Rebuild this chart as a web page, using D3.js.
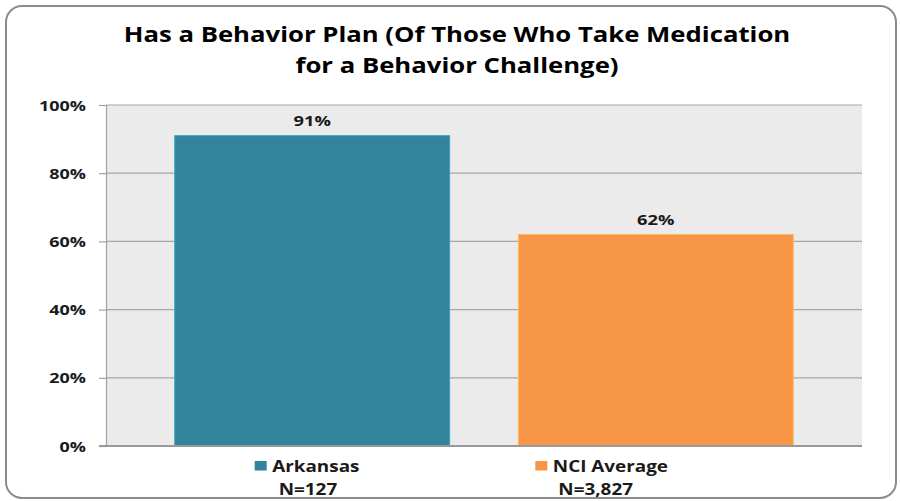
<!DOCTYPE html>
<html><head><meta charset="utf-8">
<script src="https://cdn.jsdelivr.net/npm/d3@7"></script>
<style>body{margin:0;background:#fff;} text{font-family:"Open Sans", sans-serif;font-weight:bold;}</style>
</head><body>
<svg id="c" width="900" height="501"></svg>
<script>
const categories = ["Arkansas", "NCI Average"];
const nLabels = ["N=127", "N=3,827"];
const values = [91, 62];
const valueLabels = ["91%", "62%"];
const colors = ["#31849b", "#f79646"];
const yTicks = [0, 20, 40, 60, 80, 100];
const titleLines = ["Has a Behavior Plan (Of Those Who Take Medication", "for a Behavior Challenge)"];

const svg = d3.select("#c");
svg.append("rect").attr("x",6).attr("y",6).attr("width",890).attr("height",492).attr("rx",16)
  .attr("fill","#fff").attr("stroke","#8c8c8c").attr("stroke-width",2);

const m = {l:106, r:862, t:105, b:446};
const x = d3.scaleBand().domain(categories).range([m.l, m.r]).paddingInner(0.2).paddingOuter(0.2);
const y = d3.scaleLinear().domain([0,100]).range([m.b, m.t]);

// place text at (tx,ty) with horizontal stretch sx
function place(sel, tx, ty, sx){
  sel.attr("x",0).attr("y",0).attr("transform",(d,i)=>`translate(${tx(d,i)},${ty(d,i)}) scale(${sx},1)`);
}

svg.append("rect").attr("x",m.l).attr("y",m.t).attr("width",m.r-m.l).attr("height",m.b-m.t).attr("fill","#ebebeb");

svg.append("g").selectAll("line").data(yTicks.filter(d=>d>0)).join("line")
  .attr("x1",m.l).attr("x2",m.r).attr("y1",d=>y(d)).attr("y2",d=>y(d))
  .attr("stroke","#a6a6a6").attr("stroke-width",1.2);

const ya = svg.append("g").attr("transform",`translate(${m.l},0)`)
  .call(d3.axisLeft(y).tickValues(yTicks).tickFormat(d=>d+"%").tickSize(7).tickPadding(20));
ya.select(".domain").attr("stroke","#a0a0a0").attr("stroke-width",1.2);
ya.selectAll(".tick line").attr("stroke","#a0a0a0").attr("stroke-width",1.2);
ya.selectAll(".tick text").attr("font-size",14.5).attr("fill","#1a1a1a").attr("font-family","'Open Sans', sans-serif")
  .attr("dy",null).attr("transform","translate(-20,5) scale(1.24,1)").attr("x",0);

svg.append("g").selectAll("rect").data(categories).join("rect")
  .attr("x",d=>x(d)).attr("width",x.bandwidth())
  .attr("y",(d,i)=>y(values[i])).attr("height",(d,i)=>y(0)-y(values[i]))
  .attr("fill",(d,i)=>colors[i]).attr("stroke",(d,i)=>d3.color(colors[i]).brighter(0.6)).attr("stroke-width",1);

svg.append("line").attr("x1",m.l-7).attr("x2",m.r).attr("y1",m.b).attr("y2",m.b)
  .attr("stroke","#999").attr("stroke-width",1.8);

svg.append("g").selectAll("text").data(categories).join("text")
  .attr("text-anchor","middle").attr("font-size",15).attr("fill","#1a1a1a")
  .text((d,i)=>valueLabels[i])
  .call(place, d=>x(d)+x.bandwidth()/2, (d,i)=>y(values[i])-10, 1.22);

// category labels below the axis (legend-like keys), offset from each band centre
const keyOffset = [-57.5, -120.5];
const nOffset = [-33.5, -97.5];
const lgSx = 1.18;
const lg = svg.append("g").selectAll("g").data(categories).join("g")
  .attr("transform",d=>`translate(${x(d)+x.bandwidth()/2},0)`);
lg.append("rect").attr("x",(d,i)=>keyOffset[i]).attr("y",461).attr("width",12).attr("height",9.5).attr("fill",(d,i)=>colors[i]);
lg.append("text").attr("text-anchor","start").attr("font-size",16).attr("fill","#1a1a1a").text(d=>d)
  .call(place, (d,i)=>keyOffset[i]+17.5, ()=>471.5, lgSx);
lg.append("text").attr("text-anchor","start").attr("font-size",16).attr("fill","#1a1a1a").text((d,i)=>nLabels[i])
  .call(place, (d,i)=>nOffset[i], ()=>495, lgSx);

svg.append("g").selectAll("text").data(titleLines).join("text")
  .attr("text-anchor","middle").attr("font-size",21).attr("fill","#000")
  .text(d=>d)
  .call(place, ()=>457, (d,i)=>42+i*31, 1.225);
</script>
</body></html>
